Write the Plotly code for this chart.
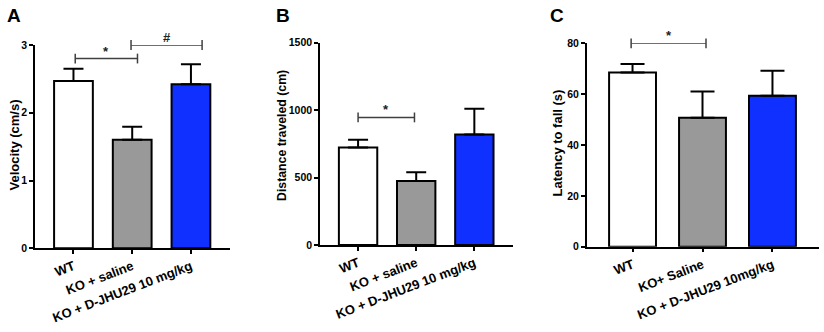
import plotly.graph_objects as go

# ---- data ----
categories_ab = ["WT", "KO + saline", "KO + D-JHU29 10 mg/kg"]
categories_c = ["WT", "KO+ Saline", "KO + D-JHU29 10mg/kg"]
bar_colors = ["#ffffff", "#999999", "#1030ff"]

velocity = [2.47, 1.60, 2.42]
velocity_sem = [0.18, 0.195, 0.295]
distance = [723, 475, 820]
distance_sem = [57, 65, 190]
latency = [68.5, 50.75, 59.4]
latency_sem = [3.4, 10.25, 9.8]

velocity_ticks = [0, 1, 2, 3]
distance_ticks = [0, 500, 1000, 1500]
latency_ticks = [0, 20, 40, 60, 80]

# significance brackets: (start, end, height, label)
brackets_a = [(0.03, 1.09, 2.80, "*"), (0.98, 2.19, 3.0, "#")]
brackets_b = [(0.0, 0.97, 946, "*")]
brackets_c = [(-0.02, 1.05, 80, "*")]

W, H = 824, 332
FONT = "Liberation Sans"

panels = [
    dict(vals=velocity, sem=velocity_sem, cats=categories_ab, ticks=velocity_ticks,
         yr=[0, 3], title="Velocity (cm/s)", letter="A", brk=brackets_a,
         xd=(35, 230), yd=(248.3, 45), bw=0.66, cap=10, tx=13.5, ty=145, ts=13,
         lx=14),
    dict(vals=distance, sem=distance_sem, cats=categories_ab, ticks=distance_ticks,
         yr=[0, 1500], title="Distance traveled (cm)", letter="B", brk=brackets_b,
         xd=(320, 513), yd=(245, 42.7), bw=0.66, cap=10, tx=282, ty=136, ts=12.3,
         lx=283),
    dict(vals=latency, sem=latency_sem, cats=categories_c, ticks=latency_ticks,
         yr=[0, 80], title="Latency to fall (s)", letter="C", brk=brackets_c,
         xd=(586.7, 819), yd=(246.7, 43.3), bw=0.67, cap=12, tx=557, ty=143.5, ts=13,
         lx=557),
]

fig = go.Figure()
annotations = []
layout = {}
for i, p in enumerate(panels, start=1):
    xa = "x" if i == 1 else f"x{i}"
    ya = "y" if i == 1 else f"y{i}"
    fig.add_trace(go.Bar(
        x=[0, 1, 2], y=p["vals"], width=p["bw"], xaxis=xa, yaxis=ya,
        marker=dict(color=bar_colors, line=dict(color="black", width=2)),
        error_y=dict(type="data", symmetric=False, array=p["sem"], arrayminus=[0, 0, 0],
                     color="black", thickness=2, width=p["cap"]),
        showlegend=False, hoverinfo="skip"))
    for (x0, x1, yv, lab) in p["brk"]:
        fig.add_trace(go.Scatter(
            x=[x0, x1], y=[yv, yv], xaxis=xa, yaxis=ya, mode="lines+markers",
            line=dict(color="#404040", width=1.5),
            marker=dict(symbol="line-ns-open", size=7, line=dict(color="#404040", width=1.5)),
            showlegend=False, hoverinfo="skip", cliponaxis=False))
        annotations.append(dict(x=(x0 + x1) / 2, y=yv, xref=xa, yref=ya, text=f"<b>{lab}</b>",
                                showarrow=False, xanchor="center", yanchor="bottom", yshift=-2,
                                font=dict(family=FONT, size=13, color="#222")))
    xdom = [p["xd"][0] / W, p["xd"][1] / W]
    ydom = [(H - p["yd"][0]) / H, (H - p["yd"][1]) / H]
    layout["xaxis" if i == 1 else f"xaxis{i}"] = dict(
        domain=xdom, anchor=ya, range=[-0.655, 2.665], tickmode="array",
        tickvals=[0, 1, 2], ticktext=p["cats"], tickangle=-21, automargin=False,
        showline=True, linecolor="black", linewidth=1.5, ticks="outside",
        ticklen=4, tickwidth=1.5, tickcolor="black", showgrid=False, zeroline=False,
        tickfont=dict(family=FONT, size=13, color="black", weight="bold"))
    layout["yaxis" if i == 1 else f"yaxis{i}"] = dict(
        domain=ydom, anchor=xa, range=p["yr"], tickmode="array", tickvals=p["ticks"],
        automargin=False,
        showline=True, linecolor="black", linewidth=1.5, ticks="outside",
        ticklen=4, tickwidth=1.5, tickcolor="black", showgrid=False, zeroline=False,
        tickfont=dict(family=FONT, size=10.5, color="black", weight="bold"))
    # y title
    annotations.append(dict(x=p["tx"] / W, y=(H - p["ty"]) / H,
                            xref="paper", yref="paper", text=f"<b>{p['title']}</b>",
                            textangle=-90, showarrow=False, xanchor="center", yanchor="middle",
                            font=dict(family=FONT, size=p["ts"], color="black")))
    # panel letter
    annotations.append(dict(x=p["lx"] / W, y=(H - 15) / H, xref="paper", yref="paper",
                            text=f"<b>{p['letter']}</b>", showarrow=False,
                            xanchor="center", yanchor="middle",
                            font=dict(family=FONT, size=19, color="black")))

fig.update_layout(template="none", width=W, height=H, margin=dict(l=0, r=0, t=0, b=0),
                  paper_bgcolor="white", plot_bgcolor="white",
                  annotations=annotations, **layout)
fig.write_html("out.html", config={"displayModeBar": False},
               post_script="document.body.style.margin='0px';")
